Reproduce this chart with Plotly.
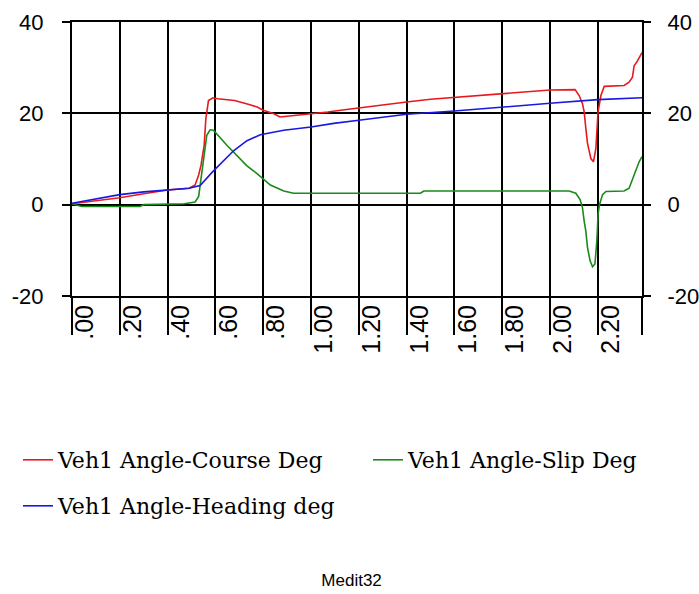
import plotly.graph_objects as go

# ---- data ----
course_t = [0.0, 0.1, 0.2, 0.3, 0.4, 0.49, 0.515, 0.53, 0.54, 0.553, 0.56, 0.571, 0.59, 0.61,
            0.68, 0.73, 0.775, 0.80, 0.845, 0.87, 0.93, 1.0, 1.07, 1.14, 1.21, 1.30, 1.40, 1.50,
            1.60, 1.67, 1.79, 1.89, 2.00, 2.105, 2.122, 2.136, 2.143, 2.15, 2.157, 2.171, 2.182,
            2.192, 2.196, 2.201, 2.213, 2.227, 2.31, 2.331, 2.345, 2.352, 2.366, 2.385]
course_v = [0.2, 0.8, 1.5, 2.4, 3.2, 3.6, 4.3, 6.5, 8.7, 13.0, 18.8, 22.8, 23.4, 23.2,
            22.8, 22.1, 21.4, 20.7, 19.9, 19.2, 19.5, 19.9, 20.3, 20.8, 21.3, 21.9, 22.5, 23.1,
            23.5, 23.9, 24.4, 24.8, 25.1, 25.2, 23.9, 22.1, 20.3, 16.7, 13.4, 10.1, 9.4,
            12.3, 15.2, 20.3, 23.9, 25.9, 26.1, 26.8, 27.9, 30.4, 31.5, 33.3]

slip_t = [0.0, 0.04, 0.285, 0.3, 0.47, 0.515, 0.53, 0.536, 0.543, 0.553, 0.564, 0.578, 0.592,
          0.648, 0.704, 0.732, 0.774, 0.83, 0.886, 0.927, 1.458, 1.472, 2.08, 2.108, 2.126,
          2.136, 2.143, 2.15, 2.157, 2.168, 2.178, 2.188, 2.196, 2.201, 2.207, 2.22, 2.234,
          2.31, 2.331, 2.345, 2.359, 2.373, 2.385]
slip_v = [0.2, -0.4, -0.4, 0.0, 0.2, 0.6, 1.8, 4.3, 7.2, 11.6, 15.2, 16.4, 16.3,
          13.0, 10.1, 8.5, 6.8, 4.3, 3.0, 2.5, 2.5, 3.0, 3.0, 2.5, 1.1,
          -0.7, -3.6, -5.8, -9.4, -12.3, -13.6, -13.0, -8.0, -2.2, 0.0, 2.2, 2.9,
          3.0, 3.6, 5.4, 7.6, 9.4, 10.5]

heading_t = [0.0, 0.09, 0.2, 0.3, 0.4, 0.49, 0.536, 0.592, 0.676, 0.732, 0.788, 0.886, 1.0,
             1.095, 1.2, 1.3, 1.4, 1.6, 1.8, 2.0, 2.2, 2.385]
heading_v = [0.3, 1.1, 2.2, 2.8, 3.3, 3.6, 4.2, 7.4, 11.8, 14.0, 15.3, 16.3, 17.0,
             17.8, 18.5, 19.2, 19.8, 20.5, 21.4, 22.2, 23.0, 23.4]

x_tickvals = [0.0, 0.2, 0.4, 0.6, 0.8, 1.0, 1.2, 1.4, 1.6, 1.8, 2.0, 2.2, 2.385]
x_ticktext = [".00", ".20", ".40", ".60", ".80", "1.00", "1.20", "1.40", "1.60", "1.80",
              "2.00", "2.20", ""]
y_tickvals = [-20, 0, 20, 40]
y_ticktext = ["-20", "0", "20", "40"]

names = ["Veh1 Angle-Course Deg", "Veh1 Angle-Slip Deg", "Veh1 Angle-Heading deg"]
colors = ["#e8191e", "#1a8a1a", "#1818e0"]

fig = go.Figure()
fig.add_trace(go.Scatter(x=course_t, y=course_v, mode="lines", name=names[0],
                         line=dict(color=colors[0], width=1.6), legend="legend"))
fig.add_trace(go.Scatter(x=slip_t, y=slip_v, mode="lines", name=names[1],
                         line=dict(color=colors[1], width=1.6), legend="legend2"))
fig.add_trace(go.Scatter(x=heading_t, y=heading_v, mode="lines", name=names[2],
                         line=dict(color=colors[2], width=1.6), legend="legend3"))
fig.add_trace(go.Scatter(x=[0], y=[0], yaxis="y2", mode="markers", opacity=0,
                         showlegend=False, hoverinfo="skip"))

tickfont = dict(family="Liberation Sans, Arial, sans-serif", size=22, color="black")
xtickfont = dict(family="Liberation Sans, Arial, sans-serif", size=25, color="black")
legfont = dict(family="DejaVu Serif, serif", size=22, color="black")

def leg(x, y):
    return dict(x=x, y=y, xref="container", yref="container", xanchor="left", yanchor="middle",
                font=legfont, bgcolor="rgba(0,0,0,0)", borderwidth=0)

fig.update_layout(
    width=699, height=594,
    margin=dict(l=72, r=57, t=22, b=298, autoexpand=False),
    paper_bgcolor="white", plot_bgcolor="white",
    showlegend=True,
    legend=leg(18 / 699, 1 - 460 / 594),
    legend2=leg(368 / 699, 1 - 460 / 594),
    legend3=leg(18 / 699, 1 - 506 / 594),
    title=dict(text="Medit32", x=0.503, xref="container", xanchor="center",
               y=1 - 580 / 594, yref="container", yanchor="middle",
               font=dict(family="Liberation Sans, Arial, sans-serif", size=17, color="black")),
    xaxis=dict(range=[0, 2.385], tickmode="array", tickvals=x_tickvals, ticktext=x_ticktext,
               tickangle=-90, ticks="outside", ticklen=37, tickwidth=2, tickcolor="black",
               showgrid=True, gridcolor="black", gridwidth=2, zeroline=False,
               showline=True, mirror=True, linecolor="black", linewidth=2,
               tickfont=xtickfont, ticklabelshift=13, ticklabelstandoff=-40),
    yaxis=dict(range=[-20, 40], tickmode="array", tickvals=y_tickvals, ticktext=y_ticktext,
               ticks="outside", ticklen=8, tickwidth=2, tickcolor="black",
               showgrid=True, gridcolor="black", gridwidth=2, zeroline=False,
               showline=True, mirror=True, linecolor="black", linewidth=2,
               tickfont=tickfont, ticklabelstandoff=14),
    yaxis2=dict(range=[-20, 40], overlaying="y", side="right", tickmode="array",
                tickvals=y_tickvals, ticktext=y_ticktext, ticks="outside", ticklen=8,
                tickwidth=2, tickcolor="black",
                showgrid=False, zeroline=False, showline=False,
                tickfont=tickfont, ticklabelstandoff=12),
)

fig.write_html("out.html", config={"displayModeBar": False},
               post_script="document.body.style.margin='0';")
